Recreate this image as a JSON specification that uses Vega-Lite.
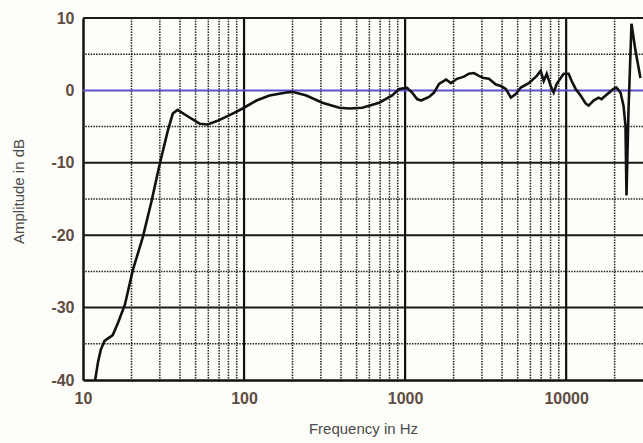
{
  "$schema": "https://vega.github.io/schema/vega-lite/v6.json",
  "width": 560,
  "height": 362,
  "autosize": {"type": "none"},
  "padding": {"left": 83, "top": 18, "right": 0, "bottom": 63},
  "background": "#fdfdf9",
  "config": {
    "view": {"stroke": null},
    "axis": {
      "labelFont": "Liberation Sans",
      "titleFont": "Liberation Sans",
      "grid": false,
      "ticks": false,
      "tickSize": 0
    }
  },
  "datasets": {
    "curve": [
      {"f": 11.9, "db": -40}, {"f": 12.4, "db": -37.5}, {"f": 12.9, "db": -35.8}, {"f": 13.6, "db": -34.6}, {"f": 15.3, "db": -33.8},
      {"f": 16.5, "db": -32.1}, {"f": 18.2, "db": -29.6}, {"f": 20.4, "db": -24.8}, {"f": 23.5, "db": -20.3},
      {"f": 26.7, "db": -15.2}, {"f": 30, "db": -10.1}, {"f": 33.6, "db": -5.6}, {"f": 36.1, "db": -3.2},
      {"f": 38.7, "db": -2.7}, {"f": 44.1, "db": -3.5}, {"f": 53, "db": -4.6}, {"f": 59.4, "db": -4.7},
      {"f": 68.5, "db": -4.2}, {"f": 84.9, "db": -3.2}, {"f": 98, "db": -2.5}, {"f": 119.5, "db": -1.4},
      {"f": 143.8, "db": -0.7}, {"f": 183.4, "db": -0.3}, {"f": 199.7, "db": -0.2}, {"f": 243.8, "db": -0.7},
      {"f": 306.3, "db": -1.7}, {"f": 390.2, "db": -2.4}, {"f": 450.1, "db": -2.5}, {"f": 541.7, "db": -2.4},
      {"f": 690.2, "db": -1.7}, {"f": 830.9, "db": -0.7}, {"f": 918, "db": 0.2}, {"f": 1029, "db": 0.35},
      {"f": 1105, "db": -0.3}, {"f": 1187, "db": -1.2}, {"f": 1256, "db": -1.4}, {"f": 1408, "db": -0.9},
      {"f": 1512, "db": -0.3}, {"f": 1624, "db": 0.9}, {"f": 1795, "db": 1.5}, {"f": 1927, "db": 1.0},
      {"f": 2099, "db": 1.6}, {"f": 2319, "db": 1.9}, {"f": 2490, "db": 2.3}, {"f": 2675, "db": 2.4},
      {"f": 2872, "db": 2.0}, {"f": 3085, "db": 1.7}, {"f": 3313, "db": 1.6}, {"f": 3661, "db": 0.8},
      {"f": 3930, "db": 0.6}, {"f": 4221, "db": 0.2}, {"f": 4533, "db": -1.0}, {"f": 4868, "db": -0.5},
      {"f": 5228, "db": 0.4}, {"f": 5859, "db": 1.0}, {"f": 6567, "db": 2.0}, {"f": 6950, "db": 2.7},
      {"f": 7256, "db": 1.3}, {"f": 7574, "db": 2.3}, {"f": 8017, "db": 0.6}, {"f": 8367, "db": -0.3},
      {"f": 8735, "db": 0.9}, {"f": 9650, "db": 2.3}, {"f": 10363, "db": 2.3}, {"f": 10818, "db": 1.3},
      {"f": 11452, "db": 0.2}, {"f": 12297, "db": -0.7}, {"f": 13205, "db": -1.8}, {"f": 13783, "db": -2.1},
      {"f": 14802, "db": -1.4}, {"f": 15896, "db": -1.0}, {"f": 16591, "db": -1.2}, {"f": 17817, "db": -0.6},
      {"f": 19684, "db": 0.2}, {"f": 20545, "db": 0.4}, {"f": 21755, "db": -0.3}, {"f": 22699, "db": -2.1},
      {"f": 23357, "db": -4.9}, {"f": 23692, "db": -14.5}, {"f": 24379, "db": -2.8}, {"f": 25446, "db": 9.2},
      {"f": 26934, "db": 5.5}, {"f": 28925, "db": 1.7}
    ],
    "vmajor": [{"f": 100}, {"f": 1000}, {"f": 10000}],
    "vminor": [
      {"f": 20}, {"f": 30}, {"f": 40}, {"f": 50}, {"f": 60}, {"f": 70}, {"f": 80}, {"f": 90},
      {"f": 200}, {"f": 300}, {"f": 400}, {"f": 500}, {"f": 600}, {"f": 700}, {"f": 800}, {"f": 900},
      {"f": 2000}, {"f": 3000}, {"f": 4000}, {"f": 5000}, {"f": 6000}, {"f": 7000}, {"f": 8000}, {"f": 9000},
      {"f": 20000}
    ],
    "hmajor": [{"db": -30}, {"db": -20}, {"db": -10}, {"db": 10}],
    "hminor": [{"db": -35}, {"db": -25}, {"db": -15}, {"db": -5}, {"db": 5}]
  },
  "encoding": {
    "x": {
      "field": "f", "type": "quantitative",
      "scale": {"type": "log", "domain": [10, 30000], "nice": false},
      "axis": {
        "values": [10, 100, 1000, 10000], "format": "d",
        "title": "Frequency in Hz",
        "titleFontSize": 15, "titleFontWeight": "normal", "titleColor": "#4a4a4a",
        "titleY": 48, "titleBaseline": "middle",
        "labelFontSize": 16, "labelFontWeight": "bold", "labelColor": "#5e4c42",
        "labelPadding": 10, "labelFlush": false,
        "domainColor": "#111", "domainWidth": 2.5
      }
    },
    "y": {
      "field": "db", "type": "quantitative",
      "scale": {"domain": [-40, 10], "nice": false},
      "axis": {
        "values": [-40, -30, -20, -10, 0, 10],
        "labelExpr": "'' + datum.value",
        "title": "Amplitude in dB",
        "titleFontSize": 15, "titleFontWeight": "normal", "titleColor": "#4a4a4a",
        "titleX": -65, "titleY": 173, "titleBaseline": "middle", "titleAngle": -90,
        "labelFontSize": 16, "labelFontWeight": "bold", "labelColor": "#5e4c42",
        "labelPadding": 9, "labelFlush": false,
        "domainColor": "#111", "domainWidth": 2.5
      }
    }
  },
  "layer": [
    {
      "data": {"name": "vminor"},
      "mark": {"type": "rule", "color": "#222", "strokeWidth": 1.5, "strokeDash": [1.5, 1.2]},
      "encoding": {"x": {"field": "f", "type": "quantitative"}, "y": null}
    },
    {
      "data": {"name": "vminor"},
      "mark": {"type": "rule", "color": "#1a1a1a", "strokeWidth": 1.8},
      "encoding": {"x": {"field": "f", "type": "quantitative"}, "y": {"datum": -40}, "y2": {"datum": -37}}
    },
    {
      "data": {"name": "vminor"},
      "mark": {"type": "rule", "color": "#1a1a1a", "strokeWidth": 1.8},
      "encoding": {"x": {"field": "f", "type": "quantitative"}, "y": {"datum": 10}, "y2": {"datum": 7}}
    },
    {
      "data": {"name": "hminor"},
      "mark": {"type": "rule", "color": "#222", "strokeWidth": 1.5, "strokeDash": [1.5, 1.2]},
      "encoding": {"y": {"field": "db", "type": "quantitative"}, "x": null}
    },
    {
      "data": {"name": "hminor"},
      "mark": {"type": "rule", "color": "#1a1a1a", "strokeWidth": 1.8},
      "encoding": {"y": {"field": "db", "type": "quantitative"}, "x": {"datum": 10}, "x2": {"datum": 14.5}}
    },
    {
      "data": {"name": "hminor"},
      "mark": {"type": "rule", "color": "#1a1a1a", "strokeWidth": 1.8},
      "encoding": {"y": {"field": "db", "type": "quantitative"}, "x": {"datum": 21000}, "x2": {"datum": 30000}}
    },
    {
      "data": {"name": "vmajor"},
      "mark": {"type": "rule", "color": "#111", "strokeWidth": 2.2},
      "encoding": {"x": {"field": "f", "type": "quantitative"}, "y": null}
    },
    {
      "data": {"name": "hmajor"},
      "mark": {"type": "rule", "color": "#1a1a1a", "strokeWidth": 2},
      "encoding": {"y": {"field": "db", "type": "quantitative"}, "x": null}
    },
    {
      "data": {"values": [{"db": 0}]},
      "mark": {"type": "rule", "color": "#5a52cc", "strokeWidth": 2},
      "encoding": {"y": {"field": "db", "type": "quantitative"}, "x": null}
    },
    {
      "data": {"name": "curve"},
      "mark": {"type": "line", "color": "#111", "strokeWidth": 2.6, "clip": true},
      "encoding": {"x": {"field": "f", "type": "quantitative"}, "y": {"field": "db", "type": "quantitative"}}
    }
  ]
}
